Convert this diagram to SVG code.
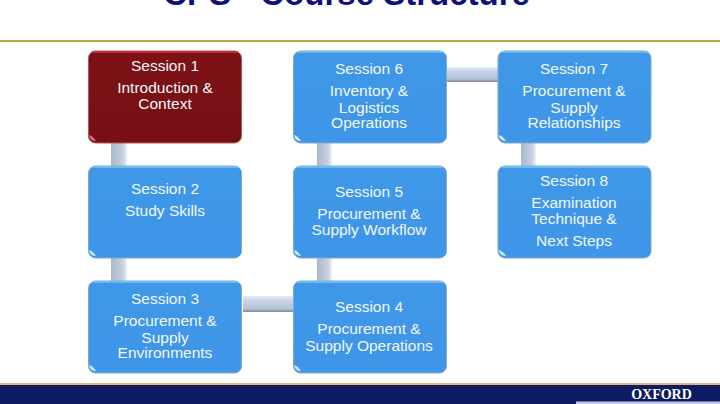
<svg xmlns="http://www.w3.org/2000/svg" width="720" height="404" viewBox="0 0 720 404">
<style>
text{font-family:"Liberation Sans",Arial,sans-serif;text-anchor:middle}
.t{font-size:15.500px;fill:#f2f8fd}
.b{fill:url(#blue);stroke:#7fa9cf;stroke-width:1}
.r{fill:url(#red);stroke:#b9565c;stroke-width:1}
.hi{fill:none;stroke:#7cc4f2;stroke-width:1.500}
.hr{fill:none;stroke:#d3323f;stroke-width:1.500}
.g{fill:#cfeafa}
.gr{fill:#e0707a}
</style>
<defs>
<linearGradient id="blue" x1="0" y1="0" x2="0" y2="1"><stop offset="0" stop-color="#3f97e8"/><stop offset="1" stop-color="#3f96e8"/></linearGradient>
<linearGradient id="red" x1="0" y1="0" x2="0" y2="1"><stop offset="0" stop-color="#7d1216"/><stop offset="1" stop-color="#761015"/></linearGradient>
<linearGradient id="cv" x1="0" y1="0" x2="1" y2="0"><stop offset="0" stop-color="#a9b8cc"/><stop offset="0.75" stop-color="#c6d2e2"/><stop offset="1" stop-color="#eef2f7"/></linearGradient>
<linearGradient id="ch" x1="0" y1="0" x2="0" y2="1"><stop offset="0" stop-color="#e6ecf4"/><stop offset="0.25" stop-color="#c9d6e8"/><stop offset="0.8" stop-color="#b4c2d6"/><stop offset="1" stop-color="#7d8794"/></linearGradient>
</defs>
<rect width="720" height="404" fill="#ffffff"/>
<text id="title" x="346.500" y="5" font-size="33" font-weight="700" fill="#10107a">CPS - Course Structure</text>
<rect x="0" y="40" width="720" height="2" fill="#c8a14b"/>
<g id="connectors">
<rect x="111" y="143" width="16" height="23" fill="url(#cv)"/>
<rect x="111" y="258" width="16" height="23" fill="url(#cv)"/>
<rect x="317" y="143" width="15" height="23" fill="url(#cv)"/>
<rect x="317" y="258" width="15" height="23" fill="url(#cv)"/>
<rect x="521" y="143" width="15" height="23" fill="url(#cv)"/>
<rect x="243" y="296" width="50" height="16" fill="url(#ch)"/>
<rect x="447" y="67" width="51" height="15" fill="url(#ch)"/>
</g>
<g id="session1"><rect class="r" x="88.500" y="51" width="153" height="92" rx="7"/><path class="hr" d="M92 52H238"/><path class="gr" d="M89 135Q93 136 96 141Q90 141 89 135Z"/><text class="t" x="165" y="71">Session 1</text><text class="t" x="165" y="93">Introduction &amp;</text><text class="t" x="165" y="109">Context</text></g>
<g id="session2"><rect class="b" x="88.500" y="166" width="153" height="92" rx="7"/><path class="hi" d="M92 167H238"/><path class="g" d="M89 250Q93 251 96 256Q90 256 89 250Z"/><text class="t" x="165" y="194">Session 2</text><text class="t" x="165" y="216">Study Skills</text></g>
<g id="session3"><rect class="b" x="88.500" y="281" width="153" height="92" rx="7"/><path class="hi" d="M92 282H238"/><path class="g" d="M89 365Q93 366 96 371Q90 371 89 365Z"/><text class="t" x="165" y="304">Session 3</text><text class="t" x="165" y="326">Procurement &amp;</text><text class="t" x="165" y="343">Supply</text><text class="t" x="165" y="358">Environments</text></g>
<g id="session4"><rect class="b" x="293.500" y="281" width="153" height="92" rx="7"/><path class="hi" d="M297 282H443"/><path class="g" d="M294 365Q298 366 301 371Q295 371 294 365Z"/><text class="t" x="369" y="312">Session 4</text><text class="t" x="369" y="334">Procurement &amp;</text><text class="t" x="369" y="351">Supply Operations</text></g>
<g id="session5"><rect class="b" x="293.500" y="166" width="153" height="92" rx="7"/><path class="hi" d="M297 167H443"/><path class="g" d="M294 250Q298 251 301 256Q295 256 294 250Z"/><text class="t" x="369" y="197">Session 5</text><text class="t" x="369" y="219">Procurement &amp;</text><text class="t" x="369" y="235">Supply Workflow</text></g>
<g id="session6"><rect class="b" x="293.500" y="51" width="153" height="92" rx="7"/><path class="hi" d="M297 52H443"/><path class="g" d="M294 135Q298 136 301 141Q295 141 294 135Z"/><text class="t" x="369" y="74">Session 6</text><text class="t" x="369" y="96">Inventory &amp;</text><text class="t" x="369" y="113">Logistics</text><text class="t" x="369" y="128">Operations</text></g>
<g id="session7"><rect class="b" x="498" y="51" width="153" height="92" rx="7"/><path class="hi" d="M502 52H648"/><path class="g" d="M498.500 135Q503 136 506 141Q500 141 498.500 135Z"/><text class="t" x="574" y="74">Session 7</text><text class="t" x="574" y="96">Procurement &amp;</text><text class="t" x="574" y="113">Supply</text><text class="t" x="574" y="128">Relationships</text></g>
<g id="session8"><rect class="b" x="498" y="166" width="153" height="92" rx="7"/><path class="hi" d="M502 167H648"/><path class="g" d="M498.500 250Q503 251 506 256Q500 256 498.500 250Z"/><text class="t" x="574" y="186">Session 8</text><text class="t" x="574" y="208">Examination</text><text class="t" x="574" y="224">Technique &amp;</text><text class="t" x="574" y="246">Next Steps</text></g>
<rect x="0" y="383" width="720" height="2" fill="#e9b27a"/>
<rect x="0" y="385" width="720" height="19" fill="#0d1b62"/>
<rect x="576" y="401.500" width="144" height="2.500" fill="#c3cbe4"/>
<text id="oxford" x="661.500" y="399" font-size="14" font-weight="700" fill="#ffffff" style="font-family:'Liberation Serif',serif">OXFORD</text>
</svg>
